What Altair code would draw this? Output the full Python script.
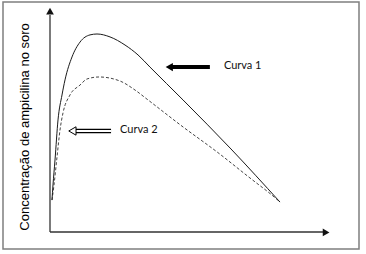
import altair as alt
import pandas as pd

# ---- data (arbitrary units: time, serum concentration) ----
curva1_t = [0.71, 1.07, 1.79, 2.86, 4.29, 5.36, 7.86, 10.71, 14.29, 16.79, 21.43, 26.79, 31.43, 35.71, 47.5, 64.64, 82.14]
curva1_c = [14.2, 20.9, 32.0, 49.8, 60.9, 67.6, 77.8, 84.4, 87.6, 88.0, 86.7, 83.1, 78.7, 73.3, 58.7, 36.9, 13.3]
curva2_t = [0.71, 1.43, 2.5, 3.57, 4.64, 7.14, 10.71, 13.21, 17.5, 25.0, 30.36, 35.0, 47.5, 59.64, 71.43, 79.64, 82.14]
curva2_c = [14.2, 20.9, 33.3, 45.3, 52.9, 60.9, 65.3, 68.0, 68.9, 67.1, 63.1, 58.7, 46.7, 35.6, 24.0, 16.0, 13.3]

labels = ["Curva 1", "Curva 2"]
label_t = [62.1, 25.0]
label_c = [73.8, 45.3]

# annotation arrows (shaft start/end, y level, head position)
arrow1 = dict(t1=43.0, t2=57.1, c=73.3, head=42.6)
arrow2 = dict(t1=8.5, t2=21.8, c=44.9, head=8.0)

y_title = "Concentração de ampicilina no soro"

x_dom = [-16.786, 110.357]
y_dom = [-7.556, 102.222]
xs = alt.Scale(domain=x_dom, nice=False, zero=False)
ys = alt.Scale(domain=y_dom, nice=False, zero=False)

def X(f="t"):
    return alt.X(f"{f}:Q", scale=xs, axis=None)

def Y(f="c"):
    return alt.Y(f"{f}:Q", scale=ys, axis=None)

d1 = pd.DataFrame({"t": curva1_t, "c": curva1_c})
d2 = pd.DataFrame({"t": curva2_t, "c": curva2_c})

line1 = alt.Chart(d1).mark_line(color="#1a1a1a", strokeWidth=1, interpolate="monotone").encode(x=X(), y=Y())
line2 = alt.Chart(d2).mark_line(color="#444444", strokeWidth=1, strokeDash=[3, 2], interpolate="monotone").encode(x=X(), y=Y())

# axes drawn as arrows
axes_df = pd.DataFrame({"t": [0, 0], "c": [0, 0], "t2": [0, 97.5], "c2": [96.4, 0]})
axes = alt.Chart(axes_df).mark_rule(color="#333333", strokeWidth=1.3).encode(
    x=X(), y=Y(), x2="t2:Q", y2="c2:Q")
heads_df = pd.DataFrame({"t": [0, 98.6], "c": [98.2, -0.2], "shape": ["triangle-up", "triangle-right"]})
heads = alt.Chart(heads_df).mark_point(filled=True, color="#111111", size=60, opacity=1).encode(
    x=X(), y=Y(), shape=alt.Shape("shape:N", scale=None, legend=None))

# arrow 1 (solid)
a1 = pd.DataFrame({"t": [arrow1["t1"]], "t2": [arrow1["t2"]], "c": [arrow1["c"]], "h": [arrow1["head"]]})
a1_shaft = alt.Chart(a1).mark_rule(color="#000000", strokeWidth=4).encode(x=X(), x2="t2:Q", y=Y())
a1_head = alt.Chart(a1).mark_point(shape="triangle-left", filled=True, color="#000000", size=70, opacity=1).encode(x=X("h"), y=Y())

# arrow 2 (hollow)
a2 = pd.DataFrame({"t": [arrow2["t1"]], "t2": [arrow2["t2"]], "c": [arrow2["c"]], "h": [arrow2["head"]]})
a2_out = alt.Chart(a2).mark_rule(color="#000000", strokeWidth=4.5).encode(x=X(), x2="t2:Q", y=Y())
a2_in = alt.Chart(a2).mark_rule(color="#ffffff", strokeWidth=2).encode(x=X(), x2="t2:Q", y=Y())
a2_head = alt.Chart(a2).mark_point(shape="triangle-left", filled=True, fill="#ffffff", stroke="#000000",
                                   strokeWidth=1, size=70, opacity=1).encode(x=X("h"), y=Y())

lab_df = pd.DataFrame({"label": labels, "t": label_t, "c": label_c})
labs = alt.Chart(lab_df).mark_text(align="left", baseline="middle", font="Lato", fontSize=11, color="#111111").encode(
    x=X(), y=Y(), text="label:N")

yt_df = pd.DataFrame({"label": [y_title], "t": [-8.9], "c": [46.7]})
ytitle = alt.Chart(yt_df).mark_text(angle=270, align="center", baseline="middle", font="Liberation Sans",
                                    fontSize=13, color="#000000").encode(x=X(), y=Y(), text="label:N")

chart = alt.layer(axes, heads, line2, line1, a1_shaft, a1_head, a2_out, a2_in, a2_head, labs, ytitle).properties(
    width=356, height=247,
    padding={"left": 3, "top": 2, "right": 7, "bottom": 5},
    autosize=alt.AutoSizeParams(type="none"),
    background="#ffffff",
).configure_view(stroke="#7f7f7f", strokeWidth=1.5)

chart.save("out.html", embed_options={"renderer": "svg", "actions": False})
